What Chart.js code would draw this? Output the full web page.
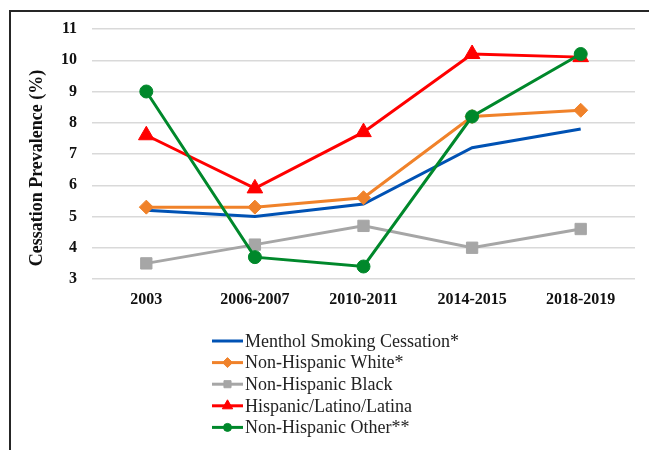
<!DOCTYPE html>
<html>
<head>
<meta charset="utf-8">
<script src="https://cdn.jsdelivr.net/npm/chart.js@4"></script>
<style>
  html, body { margin: 0; padding: 0; background: #fff; }
  body { width: 649px; height: 450px; position: relative; overflow: hidden; }
  #frame {
    position: absolute; left: 9px; top: 10px; width: 700px; height: 500px;
    border-left: 2px solid #262626; border-top: 2px solid #262626;
  }
  #wrap { position: absolute; left: 0; top: 0; width: 649px; height: 450px; }
</style>
</head>
<body>
<div id="frame"></div>
<div id="wrap"><canvas id="chart" width="649" height="450"></canvas></div>
<script>
const years = ['2003', '2006-2007', '2010-2011', '2014-2015', '2018-2019'];
const menthol = [5.2, 5.0, 5.4, 7.2, 7.8];
const nhWhite = [5.3, 5.3, 5.6, 8.2, 8.4];
const nhBlack = [3.5, 4.1, 4.7, 4.0, 4.6];
const hispanic = [7.6, 5.9, 7.7, 10.2, 10.1];
const nhOther = [9.0, 3.7, 3.4, 8.2, 10.2];
const yTicks = [3, 4, 5, 6, 7, 8, 9, 10, 11];
const yTitle = 'Cessation Prevalence (%)';

const SERIF = "'Liberation Serif', 'Times New Roman', serif";

function series(label, data, color, style, radius, order) {
    return {
        label, data, order,
        borderColor: color,
        backgroundColor: color,
        borderWidth: 3,
        pointStyle: style || 'circle',
        pointRadius: style ? radius : 0,
        pointHoverRadius: style ? radius : 0,
        pointBorderWidth: 1,
        tension: 0,
        legendRadius: style ? Math.round(radius * 0.65) : 0
    };
}

const datasets = [
    series('Menthol Smoking Cessation*', menthol, '#0052b4', null, 0, 5),
    series('Non-Hispanic White*', nhWhite, '#f0822a', 'rectRot', 7, 4),
    series('Non-Hispanic Black', nhBlack, '#a6a6a6', 'rect', 8, 3),
    series('Hispanic/Latino/Latina', hispanic, '#ff0000', 'triangle', 9, 2),
    series('Non-Hispanic Other**', nhOther, '#00882b', 'circle', 6.5, 1)
];

// rotated axis title, sitting a little below the middle of the plot
const sideTitle = {
    id: 'sideTitle',
    afterDraw(chart) {
        const ctx = chart.ctx;
        ctx.save();
        ctx.translate(37, 168);
        ctx.rotate(-Math.PI / 2);
        ctx.font = 'bold 18px ' + SERIF;
        ctx.fillStyle = '#111';
        ctx.textAlign = 'center';
        ctx.textBaseline = 'middle';
        ctx.fillText(yTitle, 0, 0);
        ctx.restore();
    }
};

// legend drawn as a single left-aligned column below the axis
const columnLegend = {
    id: 'columnLegend',
    afterDraw(chart) {
        const ctx = chart.ctx;
        const x0 = 212, lineLen = 31, top = 341, step = 21.6;
        ctx.save();
        ctx.font = '18px ' + SERIF;
        ctx.textBaseline = 'middle';
        chart.data.datasets.forEach((ds, i) => {
            const y = top + i * step;
            ctx.strokeStyle = ds.borderColor;
            ctx.fillStyle = ds.borderColor;
            ctx.lineWidth = 3;
            ctx.beginPath();
            ctx.moveTo(x0, y);
            ctx.lineTo(x0 + lineLen, y);
            ctx.stroke();
            if (ds.pointRadius) {
                ctx.lineWidth = 1;
                Chart.helpers.drawPoint(ctx, {
                    pointStyle: ds.pointStyle, radius: ds.legendRadius, rotation: 0, borderWidth: 1
                }, x0 + lineLen / 2, y);
            }
            ctx.fillStyle = '#222';
            ctx.fillText(ds.label, x0 + lineLen + 2, y + 1);
        });
        ctx.restore();
    }
};

new Chart(document.getElementById('chart'), {
    type: 'line',
    data: { labels: years, datasets },
    plugins: [sideTitle, columnLegend],
    options: {
        responsive: false,
        animation: false,
        devicePixelRatio: 1,
        layout: { padding: { left: 0, right: 14, top: 29, bottom: 0 } },
        plugins: {
            legend: { display: false },
            tooltip: { enabled: false }
        },
        scales: {
            x: {
                offset: true,
                grid: { display: false, drawTicks: false },
                border: { display: false },
                ticks: {
                    padding: 11,
                    color: '#111',
                    maxRotation: 0,
                    font: { family: SERIF, size: 16, weight: 'bold' }
                },
                afterFit(scale) { scale.height = 171; }
            },
            y: {
                min: yTicks[0],
                max: yTicks[yTicks.length - 1],
                afterBuildTicks(scale) { scale.ticks = yTicks.map(v => ({ value: v })); },
                grid: { color: '#d9d9d9', lineWidth: 1.5, drawTicks: false },
                border: { display: false },
                ticks: {
                    padding: 15,
                    color: '#111',
                    font: { family: SERIF, size: 16, weight: 'bold' }
                },
                afterFit(scale) { scale.width = 92; }
            }
        }
    }
});
</script>
</body>
</html>
